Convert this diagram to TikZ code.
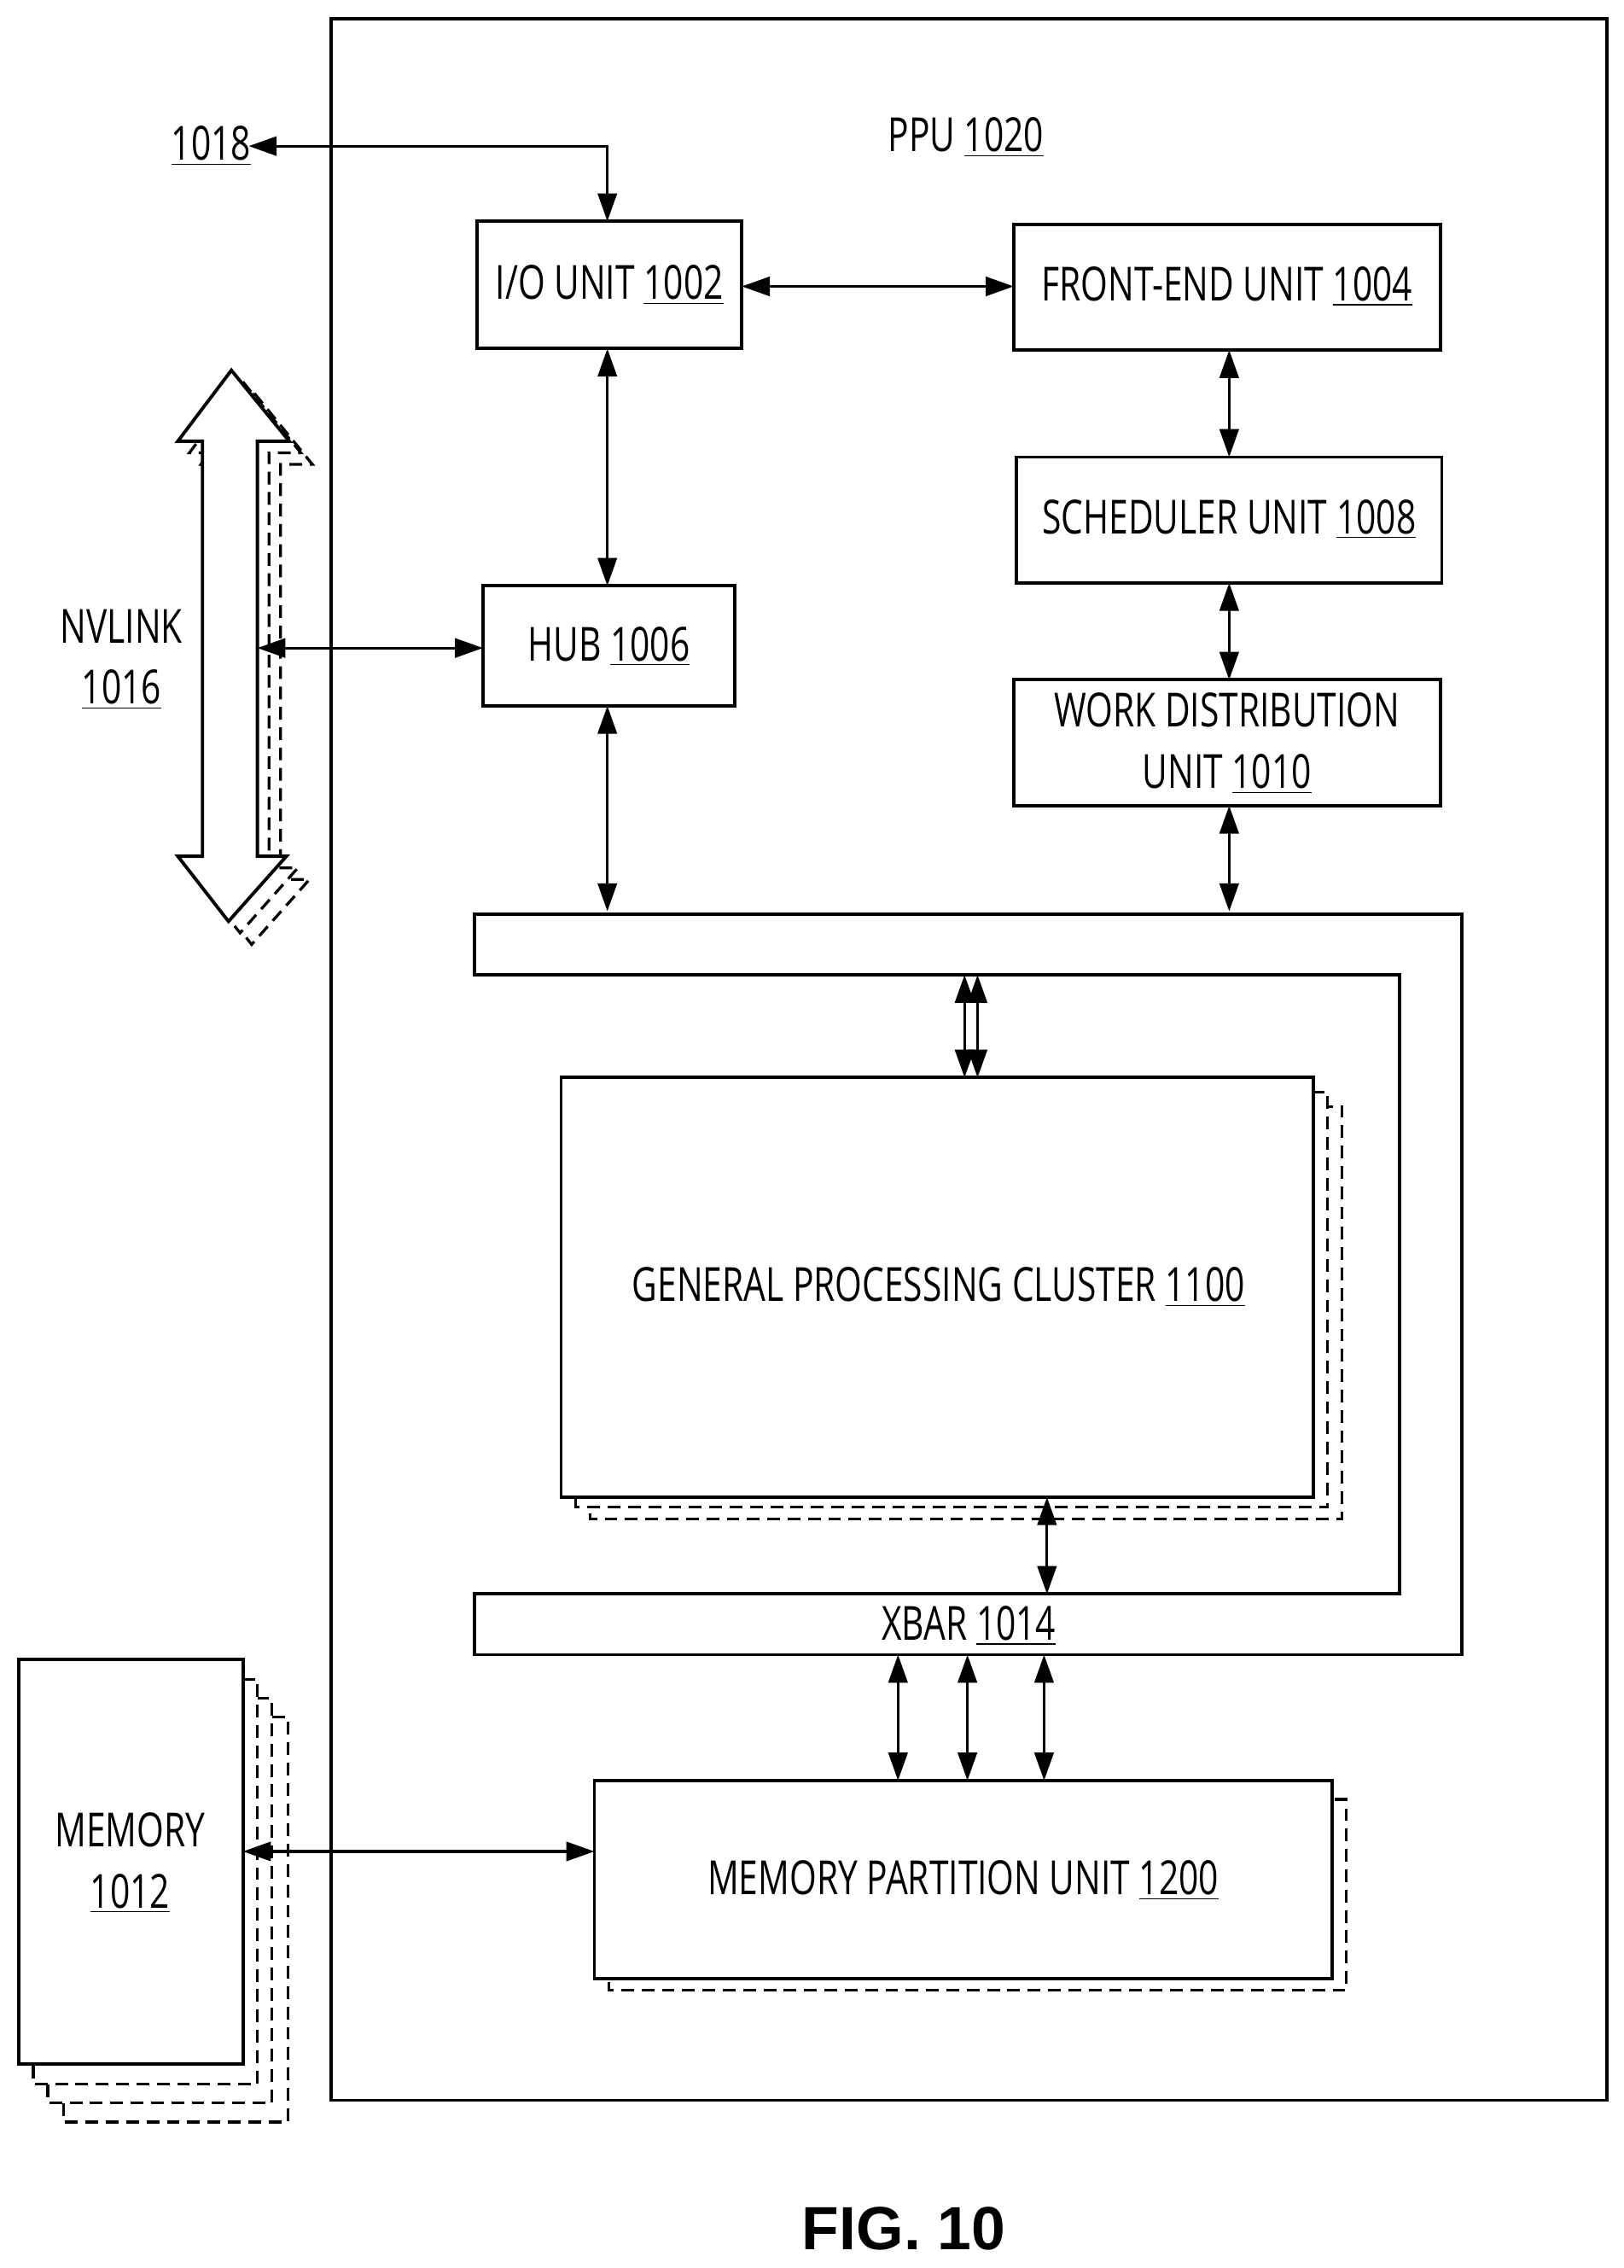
\documentclass[tikz,border=0pt]{standalone}
\usepackage{fontspec}
\setmainfont{Open Sans}[FakeStretch=0.74]
\newfontfamily\figfont{Liberation Sans}
\usetikzlibrary{arrows.meta}
\begin{document}
\begin{tikzpicture}[x=0.02cm,y=-0.02cm,
  lw/.style={line width=1.3pt},
  box/.style={draw,lw,fill=white},
  shd/.style={draw,line width=1.1pt,dash pattern=on 5pt off 3pt},
  arr/.style={line width=1.1pt,{Triangle[length=11pt,width=7.5pt]}-{Triangle[length=11pt,width=7.5pt]}},
  lab/.style={font=\fontsize{18.5}{21}\selectfont,align=center}]
\useasboundingbox (0,0) rectangle (1123,1568);
\fill[white] (0,0) rectangle (1123,1568);
% PPU
\draw[lw] (229,13) rectangle (1111,1452);
\node[lab] (ppu) at (668,95) {PPU \underline{1020}};
% boxes
\draw[box] (330,153) rectangle (513,241); \node[lab] (io) at (421.5,197) {I/O UNIT \underline{1002}};
\coordinate (ioT) at (420,153); \coordinate (ioB) at (420,241); \coordinate (ioR) at (513,198);
\draw[box] (701,155) rectangle (996,242); \node[lab] (fe) at (848.5,198) {FRONT-END UNIT \underline{1004}};
\coordinate (feL) at (701,198); \coordinate (feB) at (850,242);
\draw[box] (703,316) rectangle (997,403); \node[lab] (sc) at (850,359) {SCHEDULER UNIT \underline{1008}};
\coordinate (scT) at (850,316); \coordinate (scB) at (850,403);
\draw[box] (701,470) rectangle (996,557); \node[lab] (wd) at (848.5,514) {WORK DISTRIBUTION\\[3pt]UNIT \underline{1010}};
\coordinate (wdT) at (850,470); \coordinate (wdB) at (850,557);
\draw[box] (334,405) rectangle (508,488); \node[lab] (hub) at (421,447) {HUB \underline{1006}};
\coordinate (hubT) at (420,405); \coordinate (hubB) at (420,488); \coordinate (hubL) at (334,448);
% 1018
\node[lab] (l18) at (146,101) {\underline{1018}};
\coordinate (c18) at (172,101); \coordinate (k18) at (420,101);
\draw[arr] (c18) -- (k18) -- (ioT);
\draw[arr] (ioR) -- (feL);
\draw[arr] (ioB) -- (hubT);
\draw[arr] (feB) -- (scT);
\draw[arr] (scB) -- (wdT);
% XBAR
\draw[lw] (328,632) -- (1011,632) -- (1011,1144) -- (328,1144) -- (328,1102) -- (968,1102) -- (968,674) -- (328,674) -- cycle;
\node[lab] (xbar) at (670,1124) {XBAR \underline{1014}};
\coordinate (xb1) at (420,630); \coordinate (xb2) at (850,630);
\draw[arr] (hubB) -- (xb1);
\draw[arr] (wdB) -- (xb2);
% GPC
\draw[shd] (408,765) rectangle (928,1050);
\draw[shd,fill=white] (398,755) rectangle (918,1042);
\draw[box] (388,745) rectangle (908,1035);
\node[lab] (gpc) at (649,890) {GENERAL PROCESSING CLUSTER \underline{1100}};
\coordinate (g1t) at (667,674); \coordinate (g1b) at (667,745);
\coordinate (g2t) at (676,674); \coordinate (g2b) at (676,745);
\draw[arr] (g1t) -- (g1b); \draw[arr] (g2t) -- (g2b);
\coordinate (g3t) at (724,1035); \coordinate (g3b) at (724,1102);
\draw[arr] (g3t) -- (g3b);
% MPU
\draw[shd] (421,1244) rectangle (931,1376);
\draw[box] (411,1231) rectangle (921,1368);
\node[lab] (mpu) at (666,1300) {MEMORY PARTITION UNIT \underline{1200}};
\foreach \x/\n in {621/a,669/b,722/c}{
  \coordinate (m\n t) at (\x,1144); \coordinate (m\n b) at (\x,1231);
  \draw[arr] (m\n t) -- (m\n b);}
% MEMORY
\draw[shd] (44,1187) rectangle (199,1467);
\draw[shd,fill=white] (33,1174) rectangle (188,1454);
\draw[shd,fill=white] (23,1161) rectangle (178,1441);
\draw[box] (13,1147) rectangle (168,1427);
\node[lab] (mem) at (90,1288) {MEMORY\\[3pt]\underline{1012}};
\coordinate (memR) at (168,1280); \coordinate (mpuL) at (411,1280);
\draw[arr] (memR) -- (mpuL);
% NVLINK
\foreach \d in {16,8}{
\draw[shd,fill=white,shift={(\d,\d)}] (160,256) -- (200,305) -- (178,305) -- (178,592) -- (198,592) -- (158,637) -- (123,592) -- (140,592) -- (140,305) -- (123,305) -- cycle;}
\draw[box] (160,256) -- (200,305) -- (178,305) -- (178,592) -- (198,592) -- (158,637) -- (123,592) -- (140,592) -- (140,305) -- (123,305) -- cycle;
\node[lab] (nv) at (84,456) {NVLINK\\[3pt]\underline{1016}};
\coordinate (nvR) at (178,448);
\draw[arr] (nvR) -- (hubL);
% FIG
\node[font=\figfont\bfseries\fontsize{24}{28}\selectfont] (fig) at (625,1541) {FIG. 10};
\end{tikzpicture}
\end{document}
